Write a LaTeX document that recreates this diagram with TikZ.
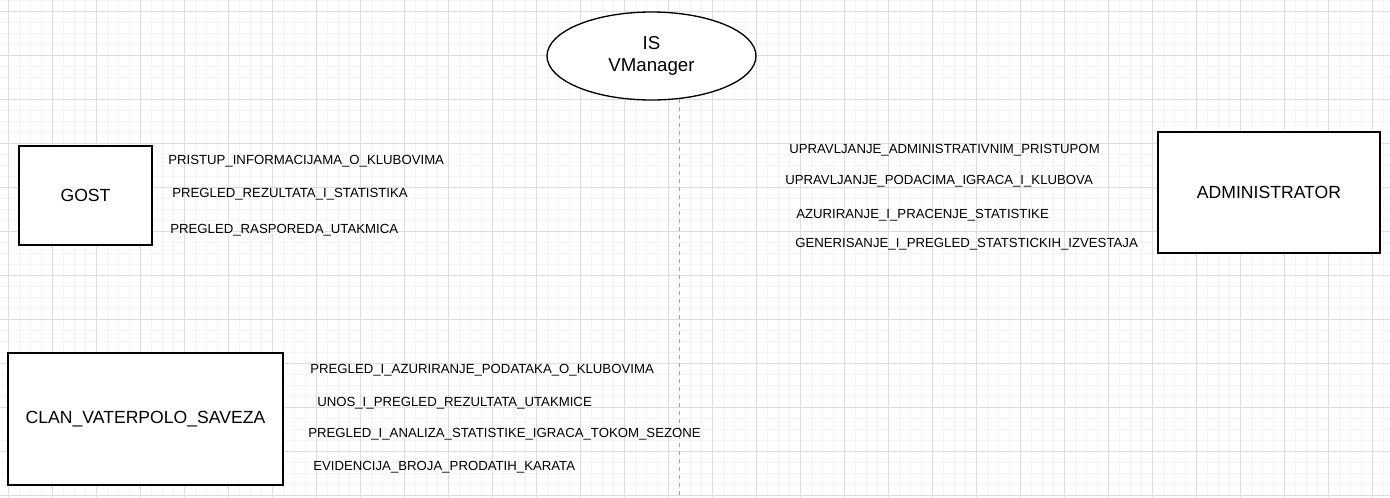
\documentclass[tikz,border=0pt]{standalone}
\usepackage{fontspec}
\setmainfont{Liberation Sans}
\usetikzlibrary{shapes.geometric}

\tikzset{
  majorgrid/.style={draw=black!13, line width=0.75pt},
  minorgrid/.style={draw=black!4, line width=0.75pt},
  actorbox/.style={draw, fill=white, line width=1pt, inner sep=0pt, font=\fontsize{13.2}{15.5}\selectfont},
  usecase/.style={anchor=base west, inner sep=0pt, font=\fontsize{9.9}{12}\selectfont},
}

\begin{document}
\begin{tikzpicture}[x=0.75pt,y=-0.75pt]
            \useasboundingbox (0,0) rectangle (1390,497);
            \fill[white] (0,0) rectangle (1390,497);

            % grid
            \foreach \x in {8,19,...,1390} {\draw[minorgrid] (\x,0) -- (\x,497);}
            \foreach \y in {0,11,...,497} {\draw[minorgrid] (0,\y) -- (1390,\y);}
            \foreach \x in {8,52,...,1390} {\draw[majorgrid] (\x,0) -- (\x,497);}
            \foreach \y in {11,55,...,497} {\draw[majorgrid] (0,\y) -- (1390,\y);}

            \coordinate (lifetop) at (679,99);\coordinate (lifebot) at (679,497);
            \draw[black!35, line width=0.75pt, dash pattern=on 3pt off 3pt] (lifetop) -- (lifebot);

            \node[ellipse, draw, fill=white, line width=1pt, inner sep=0pt, minimum width=156.75pt, minimum height=66pt, align=center, font=\fontsize{14}{16.5}\selectfont] (sys) at (651.5,56) {IS\\VManager};

            \node[actorbox, minimum width=99.75pt, minimum height=74.25pt] (gost) at (85.5,195.5) {GOST};
            \node[actorbox, minimum width=166.5pt, minimum height=90.75pt] (admin) at (1269,192.5) {ADMINISTRATOR};
            \node[actorbox, minimum width=206.25pt, minimum height=99pt] (clan) at (145.5,419) {CLAN\_VATERPOLO\_SAVEZA};

            \node[usecase] (g1) at (168,164) {PRISTUP\_INFORMACIJAMA\_O\_KLUBOVIMA};
            \node[usecase] (g2) at (172,197) {PREGLED\_REZULTATA\_I\_STATISTIKA};
            \node[usecase] (g3) at (170,233) {PREGLED\_RASPOREDA\_UTAKMICA};

            \node[usecase] (a1) at (789,153) {UPRAVLJANJE\_ADMINISTRATIVNIM\_PRISTUPOM};
            \node[usecase] (a2) at (785,184) {UPRAVLJANJE\_PODACIMA\_IGRACA\_I\_KLUBOVA};
            \node[usecase] (a3) at (796,218) {AZURIRANJE\_I\_PRACENJE\_STATISTIKE};
            \node[usecase] (a4) at (795,247) {GENERISANJE\_I\_PREGLED\_STATSTICKIH\_IZVESTAJA};

            \node[usecase] (c1) at (310,373) {PREGLED\_I\_AZURIRANJE\_PODATAKA\_O\_KLUBOVIMA};
            \node[usecase] (c2) at (317,406) {UNOS\_I\_PREGLED\_REZULTATA\_UTAKMICE};
            \node[usecase] (c3) at (308,437) {PREGLED\_I\_ANALIZA\_STATISTIKE\_IGRACA\_TOKOM\_SEZONE};
            \node[usecase] (c4) at (313,470) {EVIDENCIJA\_BROJA\_PRODATIH\_KARATA};

\end{tikzpicture}
\end{document}
